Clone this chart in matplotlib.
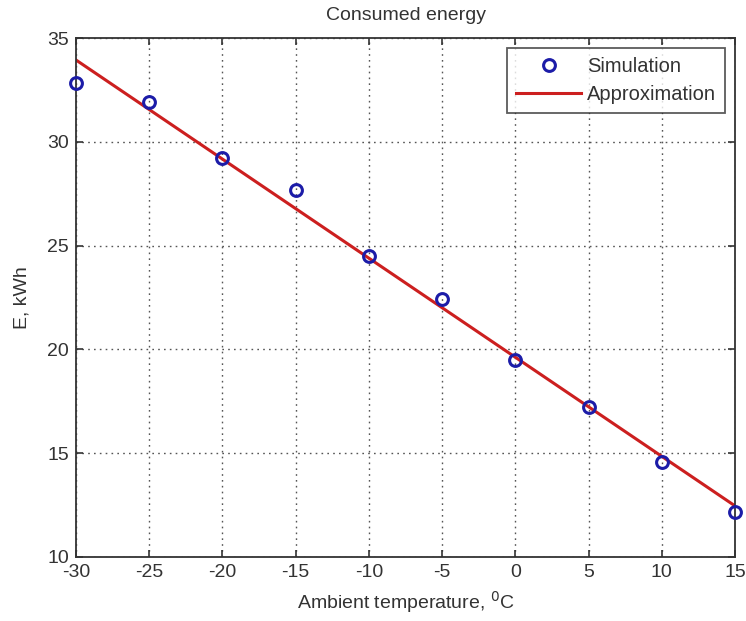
import matplotlib
matplotlib.use("Agg")
import matplotlib.pyplot as plt

# Simulated consumed energy vs ambient temperature
temperature = [-30, -25, -20, -15, -10, -5, 0, 5, 10, 15]
energy_sim = [32.83, 31.92, 29.2, 27.68, 24.5, 22.45, 19.49, 17.24, 14.59, 12.15]

# Linear approximation (endpoints of fitted line)
approx_x = [-30, 15]
approx_y = [33.94, 12.46]

x_ticks = [-30, -25, -20, -15, -10, -5, 0, 5, 10, 15]
y_ticks = [10, 15, 20, 25, 30, 35]

plt.rcParams['font.family'] = ['Liberation Sans', 'DejaVu Sans']
plt.rcParams['axes.unicode_minus'] = False

fig = plt.figure(figsize=(7.46, 6.21), dpi=100)
ax = fig.add_axes([0.1019, 0.1031, 0.8834, 0.8357])

ax.plot(temperature, energy_sim, linestyle='none', marker='o', markersize=8.5,
        markerfacecolor='none', markeredgecolor='#1c1ca8', markeredgewidth=2.2,
        label='Simulation', zorder=3, clip_on=False)
ax.plot(approx_x, approx_y, color='#cc1f1f', linewidth=2.2,
        label='Approximation', zorder=2)

ax.set_xlim(-30, 15)
ax.set_ylim(10, 35)
ax.set_xticks(x_ticks)
ax.set_yticks(y_ticks)
ax.tick_params(direction='in', top=True, right=True, length=5, width=1.2,
               labelsize=14, colors='#333333', pad=5)
for s in ax.spines.values():
    s.set_color('#333333')
    s.set_linewidth(1.3)

ax.grid(True, linestyle=(0, (1.2, 3)), color='#555555', linewidth=1.0)

ax.set_title('Consumed energy', fontsize=14, color='#333333', pad=13)
ax.set_xlabel(r'Ambient temperature, $^{0}$C', fontsize=14, color='#333333', labelpad=6)
ax.set_ylabel('E, kWh', fontsize=14, color='#333333', labelpad=12)

leg = ax.legend(loc='upper right', fontsize=14.5, frameon=True, fancybox=False,
                handlelength=3.2, borderpad=0.45, labelspacing=0.45,
                handletextpad=0.3, borderaxespad=0.5)
leg.get_frame().set_edgecolor('#333333')
leg.get_frame().set_linewidth(1.3)
for t in leg.get_texts():
    t.set_color('#333333')

fig.savefig('out.png', dpi=100)
